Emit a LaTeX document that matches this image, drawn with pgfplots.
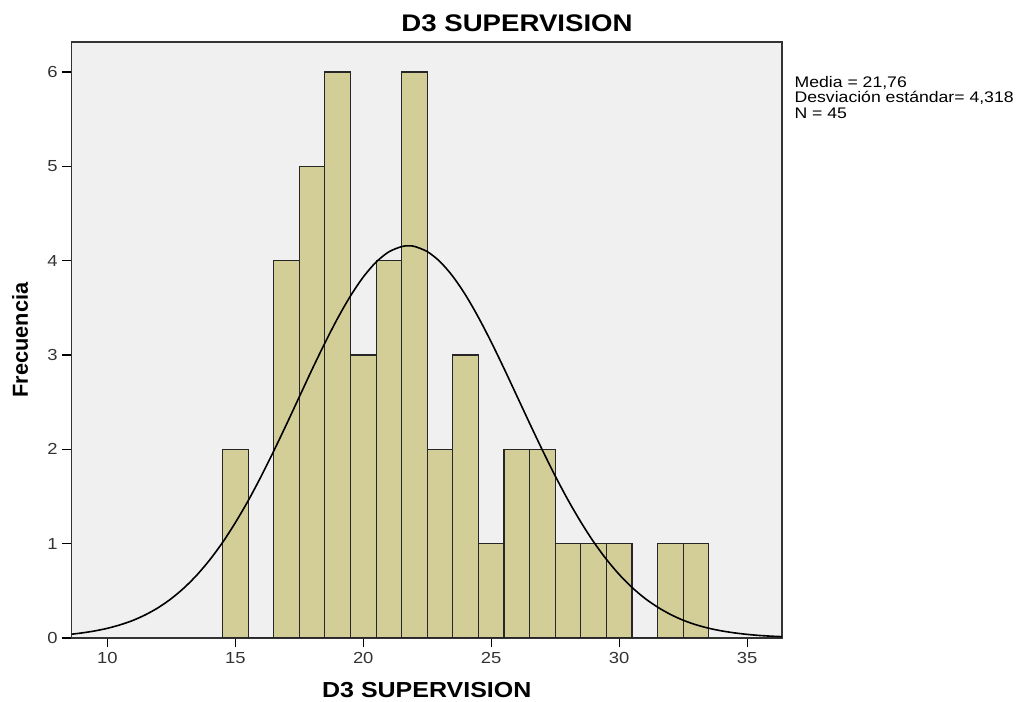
\documentclass[border=0pt]{standalone}
\usepackage{pgfplots}
\pgfplotsset{compat=1.18}
\usepackage{fontspec}
\setmainfont[FakeStretch=1.15]{Liberation Sans}
\newfontfamily\ylabfont{Liberation Sans}
\definecolor{barfill}{HTML}{D3CE98}
\definecolor{plotbg}{HTML}{F0F0F0}
\definecolor{ticktext}{HTML}{333333}
\begin{document}
\begin{tikzpicture}
\useasboundingbox (-53.8pt,-48pt) rectangle (716.5pt,478.5pt);
\begin{axis}[
    scale only axis,
    width=532.7pt, height=447pt,
    xmin=8.61, xmax=36.36,
    ymin=0, ymax=6.318,
    xtick={10,15,20,25,30,35},
    ytick={0,1,2,3,4,5,6},
    xtick pos=bottom, ytick pos=left,
    tick align=outside,
    major tick length=7pt,
    tick style={color=black, line width=0.9pt},
    axis line style={color=black!80, line width=1pt},
    axis background/.style={fill=plotbg},
    ticklabel style={font=\fontsize{12}{14}\selectfont, text=ticktext},
    /pgf/number format/assume math mode=true,
    clip=true,
]
% histogram, bins of width 1 (left edges)
\addplot[ybar interval, fill=barfill, draw=black!85, line width=0.8pt]
    coordinates {
        (14.5,2) (15.5,0) (16.5,4) (17.5,5) (18.5,6) (19.5,3) (20.5,4)
        (21.5,6) (22.5,2) (23.5,3) (24.5,1) (25.5,2) (26.5,2) (27.5,1)
        (28.5,1) (29.5,1) (30.5,0) (31.5,1) (32.5,1) (33.5,0)
    };
% normal curve
\addplot[black, line width=1.2pt, smooth, mark=none]
    coordinates {
        (8.61,0.040) (9,0.053) (9.5,0.074) (10,0.102) (10.5,0.139)
        (11,0.186) (11.5,0.247) (12,0.323) (12.5,0.417) (13,0.531)
        (13.5,0.667) (14,0.827) (14.5,1.011) (15,1.221) (15.5,1.453)
        (16,1.708) (16.5,1.980) (17,2.264) (17.5,2.555) (18,2.846)
        (18.5,3.126) (19,3.389) (19.5,3.625) (20,3.826) (20.5,3.984)
        (21,4.093) (21.5,4.149) (21.76,4.157) (22,4.151) (22.5,4.096)
        (23,3.989) (23.5,3.833) (24,3.634) (24.5,3.399) (25,3.137)
        (25.5,2.857) (26,2.567) (26.5,2.276) (27,1.991) (27.5,1.718)
        (28,1.463) (28.5,1.230) (29,1.019) (29.5,0.834) (30,0.673)
        (30.5,0.536) (31,0.421) (31.5,0.327) (32,0.250) (32.5,0.188)
        (33,0.140) (33.5,0.103) (34,0.075) (34.5,0.054) (35,0.038)
        (35.5,0.026) (36,0.018) (36.36,0.014)
    };
\end{axis}
% title, axis labels and summary
\node[anchor=base, font=\bfseries\fontsize{18}{20}\selectfont] at (334pt,454.7pt) {D3 SUPERVISION};
\node[anchor=base, font=\bfseries\fontsize{16.3}{18}\selectfont] at (266.3pt,-45pt) {D3 SUPERVISION};
\node[anchor=base, rotate=90, font=\ylabfont\bfseries\fontsize{16.3}{18}\selectfont] at (-32.8pt,223.5pt) {Frecuencia};
\node[anchor=base west, inner sep=0pt, font=\fontsize{11.5}{12}\selectfont] at (542pt,413pt) {Media = 21,76};
\node[anchor=base west, inner sep=0pt, font=\fontsize{11.5}{12}\selectfont] at (542pt,401.4pt) {Desviación estándar= 4,318};
\node[anchor=base west, inner sep=0pt, font=\fontsize{11.5}{12}\selectfont] at (542pt,389.8pt) {N = 45};
\end{tikzpicture}
\end{document}
